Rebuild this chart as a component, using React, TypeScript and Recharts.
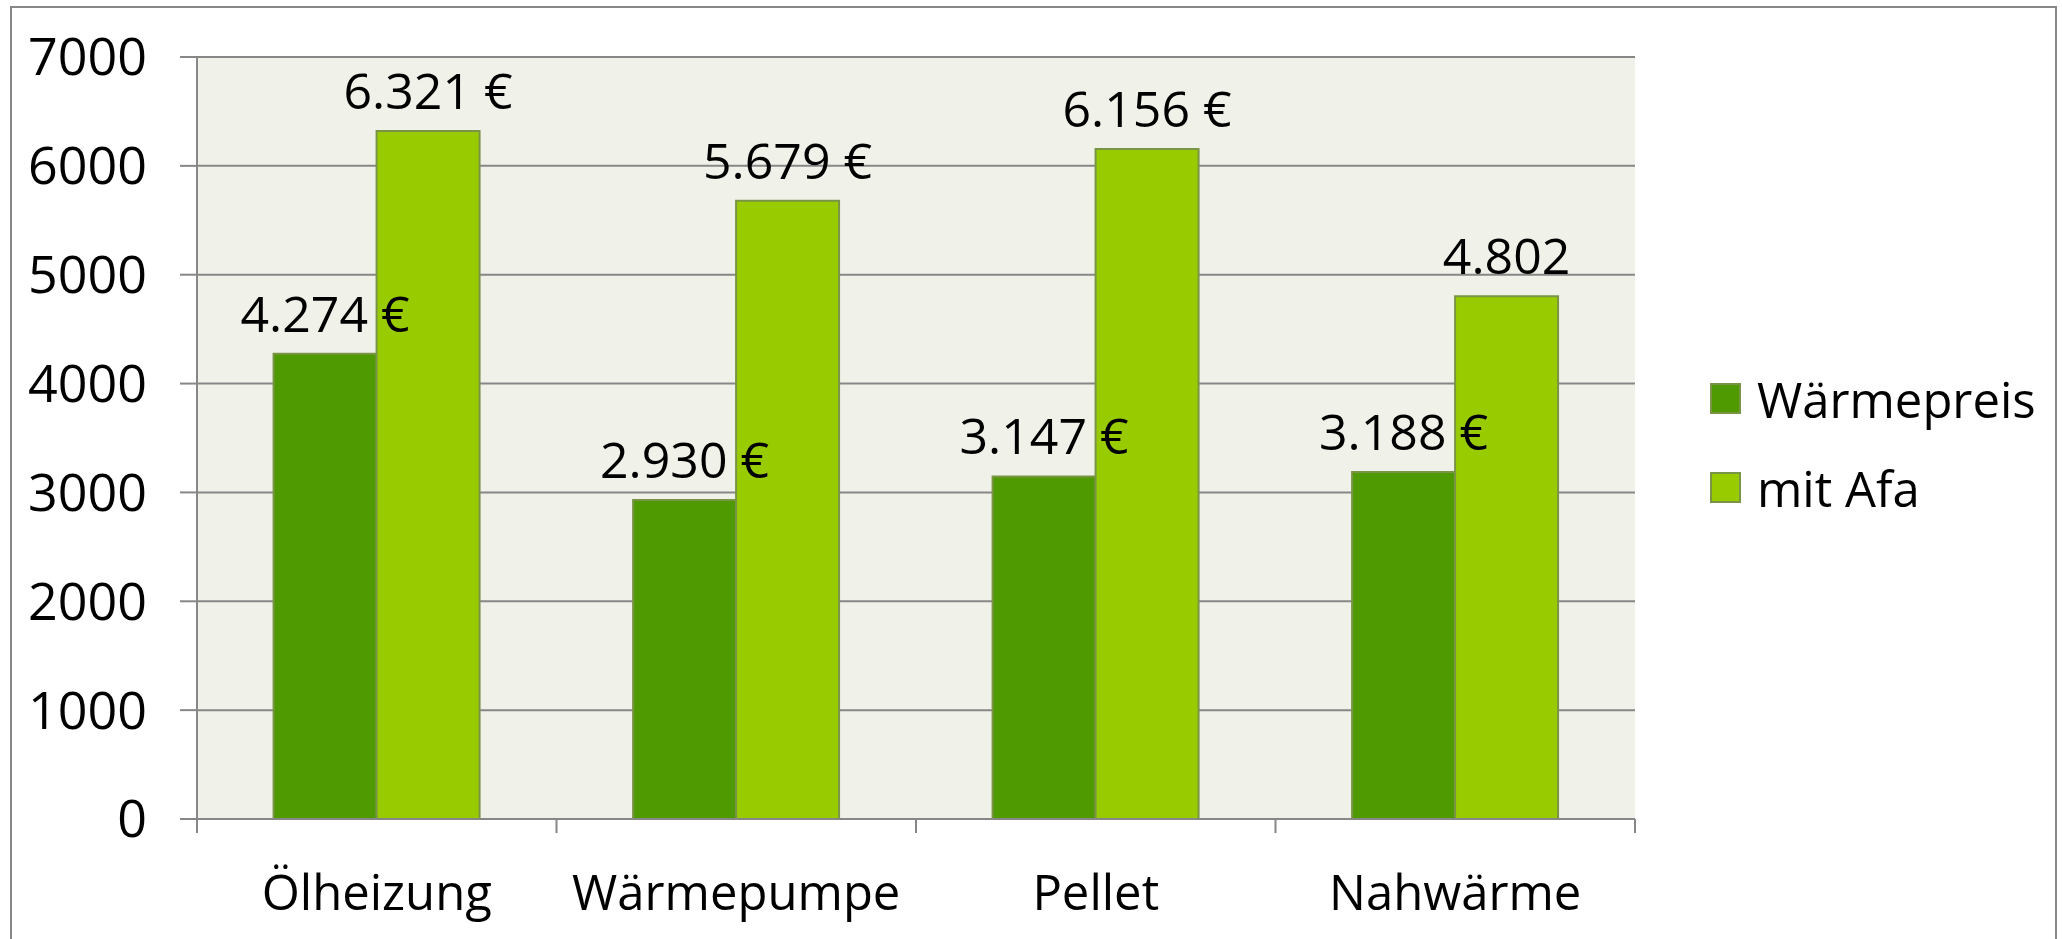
import { BarChart, Bar, XAxis, YAxis, CartesianGrid, LabelList, Legend } from "recharts";

const categories = ["Ölheizung", "Wärmepumpe", "Pellet", "Nahwärme"];
const waermepreis = [4274, 2930, 3147, 3188];
const mitAfa = [6321, 5679, 6156, 4802];
const waermeLabels = ["4.274 €", "2.930 €", "3.147 €", "3.188 €"];
const afaLabels = ["6.321 €", "5.679 €", "6.156 €", "4.802"];
const yTicks = [0, 1000, 2000, 3000, 4000, 5000, 6000, 7000];

const W = 2062;
const H = 939;
const PLOT_LEFT = 197;
const PLOT_RIGHT = 1635;
const FONT = "'Open Sans', 'Noto Sans', sans-serif";
const GRAY = "#878787";
const DARK = "#4E9A00";
const LIGHT = "#99CC00";
const BAR_STROKE = "#7A9446";

const data = categories.map((name, i) => ({
  name,
  waermepreis: waermepreis[i],
  mitAfa: mitAfa[i],
  waermeLabel: waermeLabels[i],
  afaLabel: afaLabels[i],
}));

const halfBand = (PLOT_RIGHT - PLOT_LEFT) / categories.length / 2;

function CategoryTick(props: any) {
  const { x, y, payload, index } = props;
  return (
    <g>
      <line x1={x - halfBand} x2={x - halfBand} y1={y} y2={y + 14} stroke={GRAY} strokeWidth={2} />
      {index === categories.length - 1 && (
        <line x1={x + halfBand} x2={x + halfBand} y1={y} y2={y + 14} stroke={GRAY} strokeWidth={2} />
      )}
      <text x={x} y={y + 91} textAnchor="middle" fill="#000" fontSize={49} fontFamily={FONT}>
        {payload.value}
      </text>
    </g>
  );
}

function LegendBox(props: any) {
  const items = props.payload || [];
  return (
    <div style={{ fontFamily: FONT, fontSize: 49, color: "#000" }}>
      {items.map((it: any) => (
        <div key={it.value} style={{ display: "flex", alignItems: "center", height: 89 }}>
          <span
            style={{
              display: "inline-block",
              width: 27,
              height: 27,
              background: it.color,
              border: `2px solid ${BAR_STROKE}`,
              marginRight: 16,
            }}
          />
          <span>{it.value}</span>
        </div>
      ))}
    </div>
  );
}

export default function App() {
  return (
    <div style={{ position: "absolute", left: 0, top: 0, width: W, height: H, overflow: "hidden", background: "#fff" }}>
      <div
        style={{
          position: "absolute",
          left: 10,
          top: 6,
          width: 2047,
          height: 1000,
          border: `2px solid ${GRAY}`,
          boxSizing: "border-box",
        }}
      />
      <div style={{ position: "absolute", left: 0, top: 0 }}>
        <BarChart
          width={W}
          height={H}
          data={data}
          margin={{ top: 57, right: W - PLOT_RIGHT, bottom: 0, left: 0 }}
          barCategoryGap="21.3%"
          barGap={0}
        >
          <CartesianGrid vertical={false} stroke={GRAY} strokeWidth={2} fill="#F0F2EA" fillOpacity={1} />
          <XAxis
            dataKey="name"
            height={120}
            axisLine={{ stroke: GRAY, strokeWidth: 2 }}
            tickLine={false}
            tickSize={0}
            tickMargin={0}
            interval={0}
            tick={<CategoryTick />}
          />
          <YAxis
            width={PLOT_LEFT}
            domain={[0, 7000]}
            ticks={yTicks}
            interval={0}
            axisLine={{ stroke: GRAY, strokeWidth: 2 }}
            tickLine={{ stroke: GRAY, strokeWidth: 2 }}
            tickSize={17}
            tickMargin={33}
            tick={{ fill: "#000", fontSize: 52, fontFamily: FONT }}
          />
          <Legend
            layout="horizontal"
            verticalAlign="middle"
            align="center"
            content={<LegendBox />}
            wrapperStyle={{ left: 1710, top: 354, width: 340, right: "auto", bottom: "auto" }}
          />
          <Bar dataKey="waermepreis" name="Wärmepreis" fill={DARK} stroke={BAR_STROKE} strokeWidth={2} isAnimationActive={false}>
            <LabelList dataKey="waermeLabel" position="top" offset={22} fill="#000" fontSize={50} fontFamily={FONT} />
          </Bar>
          <Bar dataKey="mitAfa" name="mit Afa" fill={LIGHT} stroke={BAR_STROKE} strokeWidth={2} isAnimationActive={false}>
            <LabelList dataKey="afaLabel" position="top" offset={22} fill="#000" fontSize={50} fontFamily={FONT} />
          </Bar>
        </BarChart>
      </div>
    </div>
  );
}
